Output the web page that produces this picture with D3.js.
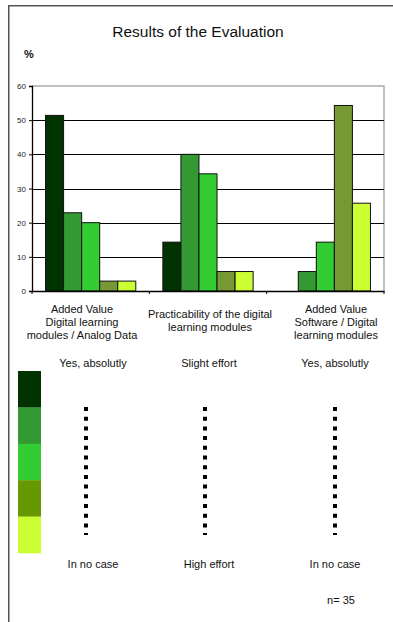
<!DOCTYPE html>
<html><head><meta charset="utf-8">
<script src="https://cdn.jsdelivr.net/npm/d3@7"></script>
<style>body{margin:0;background:#fff}svg{display:block;font-family:"Liberation Sans",Arial,sans-serif}</style>
</head><body>
<script>
const categories = [
  ["Added Value", "Digital learning", "modules / Analog  Data"],
  ["Practicability of the digital", "learning modules"],
  ["Added Value", "Software / Digital", "learning modules"]
];
const seriesNames = ["s1","s2","s3","s4","s5"];
const values = [
  [51.4, 22.9, 20.0, 2.9, 2.9],
  [14.3, 40.0, 34.3, 5.7, 5.7],
  [0.0, 5.7, 14.3, 54.3, 25.7]
];
const barColors = ["#003300","#339933","#33cc33","#779933","#ccff33"];
const legendColors = ["#003300","#339933","#33cc33","#669900","#ccff33"];
const yTicks = [0,10,20,30,40,50,60];
const topLabels = ["Yes, absolutly","Slight effort","Yes, absolutly"];
const bottomLabels = ["In no case","High effort","In no case"];

(function(){
const W=393,H=622;
const svg=d3.select("body").append("svg").attr("width",W).attr("height",H);

// outer frame
svg.append("path").attr("d","M8.75,"+H+"V5.75H"+W).attr("fill","none").attr("stroke","#555").attr("stroke-width",1.5);

svg.append("text").attr("x",198).attr("y",37).attr("text-anchor","middle").attr("font-size",15.5).attr("fill","#111").text("Results of the Evaluation");
svg.append("text").attr("x",24).attr("y",58).attr("font-size",11).attr("font-weight","bold").attr("fill","#111").text("%");

const pL=32,pR=384,pT=86,pB=291;
const y=d3.scaleLinear().domain([0,60]).range([pB,pT]);
const x0=d3.scaleBand().domain(d3.range(categories.length)).range([pL,pR]).padding(0);
const x1=d3.scaleBand().domain(seriesNames).range([0,x0.bandwidth()]).paddingInner(0).paddingOuter(0.75);

// plot box (grey)
svg.append("path").attr("d",`M${pL},${pT}H${pR}V${pB}`).attr("fill","none").attr("stroke","#aaa").attr("stroke-width",1.5);
// gridlines
svg.append("g").selectAll("line").data(yTicks.filter(t=>t>0&&t<60)).join("line")
  .attr("x1",pL).attr("x2",pR).attr("y1",d=>Math.round(y(d))+0.5).attr("y2",d=>Math.round(y(d))+0.5)
  .attr("stroke","#000").attr("stroke-width",1);

// bars
const g=svg.append("g");
values.forEach((vals,ci)=>{
  g.append("g").attr("transform",`translate(${x0(ci)},0)`).selectAll("rect").data(vals.map((v,i)=>({v,i})).filter(d=>d.v>0)).join("rect")
    .attr("x",d=>x1(seriesNames[d.i])).attr("width",x1.bandwidth())
    .attr("y",d=>y(d.v)).attr("height",d=>pB-y(d.v))
    .attr("fill",d=>barColors[d.i]).attr("stroke","#111").attr("stroke-width",1);
});

// y axis
const ya=svg.append("g").attr("transform",`translate(${pL},0)`).call(d3.axisLeft(y).tickValues(yTicks).tickSize(3).tickPadding(3));
ya.select(".domain").attr("stroke","#000").attr("stroke-width",1.3);
ya.selectAll("text").attr("font-size",8).attr("fill","#222").attr("font-family","Liberation Sans, Arial, sans-serif");
ya.selectAll(".tick line").attr("stroke","#000");
// x axis
const xa=svg.append("g").attr("transform",`translate(0,${pB})`).call(d3.axisBottom(x0).tickSize(0).tickFormat(""));
xa.select(".domain").attr("stroke","#000").attr("stroke-width",1.3);
svg.append("g").selectAll("line").data(d3.range(categories.length+1)).join("line")
  .attr("x1",i=>i<categories.length?x0(i):pR).attr("x2",i=>i<categories.length?x0(i):pR)
  .attr("y1",pB).attr("y2",pB+3).attr("stroke","#000");

// category labels
const labelCx=[82,210,336];
const labelTop=[313,318,313];
categories.forEach((lines,ci)=>{
  const t=svg.append("text").attr("text-anchor","middle").attr("font-size",11).attr("fill","#111");
  lines.forEach((l,li)=>t.append("tspan").attr("x",labelCx[ci]).attr("y",labelTop[ci]+li*13).text(l));
});

// scale labels
const scaleCx=[93,209,335];
svg.append("g").selectAll("text").data(topLabels).join("text")
  .attr("x",(d,i)=>scaleCx[i]).attr("y",367).attr("text-anchor","middle").attr("font-size",11).attr("fill","#111").text(d=>d);
svg.append("g").selectAll("text").data(bottomLabels).join("text")
  .attr("x",(d,i)=>scaleCx[i]).attr("y",568).attr("text-anchor","middle").attr("font-size",11).attr("fill","#111").text(d=>d);

// legend color bar
const ly=d3.scaleBand().domain(d3.range(legendColors.length)).range([371,553]);
svg.append("g").selectAll("rect").data(legendColors).join("rect")
  .attr("x",18).attr("width",23).attr("y",(d,i)=>ly(i)).attr("height",ly.bandwidth()+0.3).attr("fill",d=>d);

// dotted lines
const dotX=[86,205,335];
svg.append("g").selectAll("line").data(dotX).join("line")
  .attr("x1",d=>d).attr("x2",d=>d).attr("y1",407).attr("y2",535)
  .attr("stroke","#000").attr("stroke-width",4).attr("stroke-dasharray","4,5.7");

svg.append("text").attr("x",341).attr("y",604).attr("text-anchor","middle").attr("font-size",11).attr("fill","#111").text("n= 35");
})();
</script>
</body></html>
